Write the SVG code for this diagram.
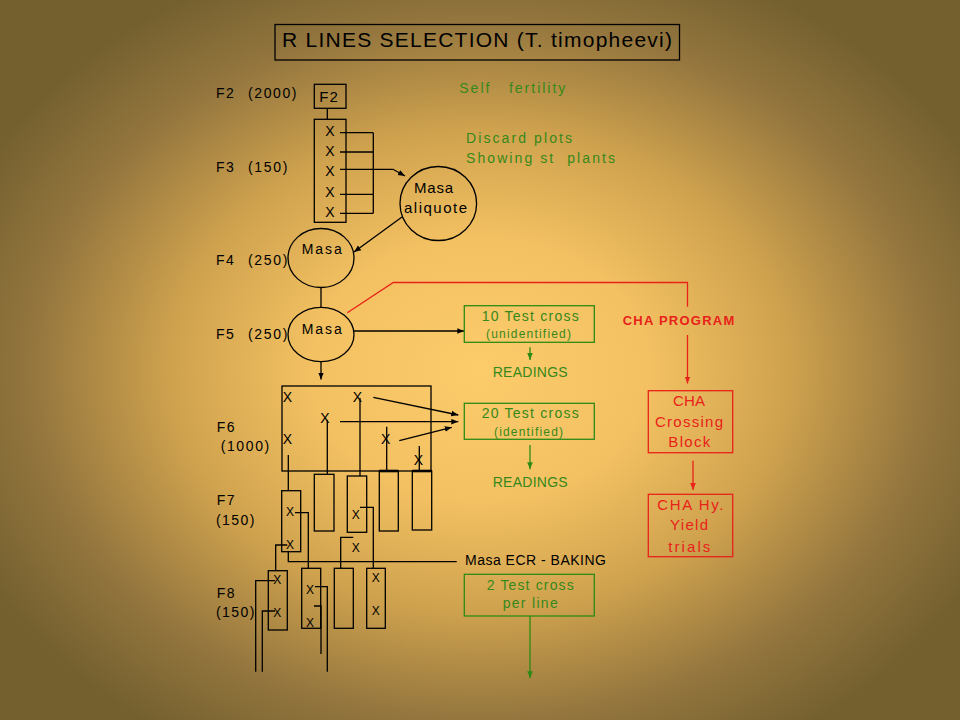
<svg xmlns="http://www.w3.org/2000/svg" width="960" height="720" viewBox="0 0 960 720">
<defs>
<radialGradient id="bg" gradientUnits="userSpaceOnUse" cx="480" cy="370" r="560" gradientTransform="translate(480 370) scale(1 0.78) translate(-480 -370)">
<stop offset="0" stop-color="#fccb6a"/>
<stop offset="0.3" stop-color="#f3c162"/>
<stop offset="0.55" stop-color="#cfa24e"/>
<stop offset="0.8" stop-color="#94763e"/>
<stop offset="1" stop-color="#74602f"/>
</radialGradient>
<marker id="ak" viewBox="0 0 10 10" refX="10" refY="5" markerWidth="7" markerHeight="7" markerUnits="userSpaceOnUse" orient="auto"><path d="M0,1 L10,5 L0,9 z" fill="#000"/></marker>
<marker id="ag" viewBox="0 0 10 10" refX="10" refY="5" markerWidth="7" markerHeight="7" markerUnits="userSpaceOnUse" orient="auto"><path d="M0,1 L10,5 L0,9 z" fill="#2d8a14"/></marker>
<marker id="ar" viewBox="0 0 10 10" refX="10" refY="5" markerWidth="7" markerHeight="7" markerUnits="userSpaceOnUse" orient="auto"><path d="M0,1 L10,5 L0,9 z" fill="#e8221a"/></marker>
</defs>
<style>
text{font-family:"Liberation Sans",Arial,sans-serif}
.k{fill:#000;font-size:14px;letter-spacing:1.5px}
.g{fill:#36881a;font-size:14px}
.r{fill:#e8221a}
.c{text-anchor:middle}
.ln{fill:none;stroke:#000;stroke-width:1.3}
.th{fill:none;stroke:#000;stroke-width:2.6}
.gb{fill:none;stroke:#2d8a14;stroke-width:1.3}
.rb{fill:none;stroke:#e8221a;stroke-width:1.3}
.gl{fill:none;stroke:#2d8a14;stroke-width:1.3}
.rl{fill:none;stroke:#e8221a;stroke-width:1.3}
.x{font-size:14px;text-anchor:middle;fill:#000}
.xs{font-size:12px;text-anchor:middle;fill:#000}
</style>
<rect x="0" y="0" width="960" height="720" fill="url(#bg)"/>

<g id="title">
<rect x="275" y="24.5" width="404.5" height="35.5" fill="none" stroke="#000" stroke-width="1.3"/>
<text x="282" y="46.7" font-size="21" textLength="390" lengthAdjust="spacing">R LINES SELECTION (T. timopheevi)</text>
</g>

<g id="generation-labels">
<text class="k" x="216" y="98">F2</text><text class="k" x="248" y="98" textLength="50" lengthAdjust="spacing">(2000)</text>
<text class="k" x="216" y="171.7">F3</text><text class="k" x="248" y="171.7" textLength="41" lengthAdjust="spacing">(150)</text>
<text class="k" x="216" y="265">F4</text><text class="k" x="248" y="265" textLength="41" lengthAdjust="spacing">(250)</text>
<text class="k" x="216" y="339">F5</text><text class="k" x="248" y="339" textLength="41" lengthAdjust="spacing">(250)</text>
<text class="k" x="216.7" y="431.7">F6</text><text class="k" x="220.7" y="450.7" textLength="50" lengthAdjust="spacing">(1000)</text>
<text class="k" x="216.7" y="505">F7</text><text class="k" x="216" y="525" textLength="40" lengthAdjust="spacing">(150)</text>
<text class="k" x="216.7" y="598.3">F8</text><text class="k" x="216" y="617.3" textLength="40" lengthAdjust="spacing">(150)</text>
</g>

<g id="notes">
<text class="g" x="459.3" y="93.3" xml:space="preserve" textLength="106" lengthAdjust="spacing">Self   fertility</text>
<text class="g" x="466" y="142.7" textLength="106" lengthAdjust="spacing">Discard plots</text>
<text class="g" x="466" y="163.3" xml:space="preserve" textLength="149" lengthAdjust="spacing">Showing st  plants</text>
</g>

<g id="connectors">
<line class="ln" x1="327.3" y1="108.3" x2="327.3" y2="119.3"/>
<polyline class="ln" points="340,132.7 373.3,132.7"/>
<polyline class="ln" points="340,152 373.3,152"/>
<polyline class="ln" points="340,194.3 373.3,194.3"/>
<polyline class="ln" points="340,213.3 373.3,213.3"/>
<line class="ln" x1="373.3" y1="132.7" x2="373.3" y2="213.3"/>
<path class="ln" d="M340,169.3 H393 L405,176" marker-end="url(#ak)"/>
<line class="ln" x1="402" y1="217" x2="354" y2="252" marker-end="url(#ak)"/>
<line class="ln" x1="321" y1="287.5" x2="321" y2="307.3"/>
<line class="ln" x1="354" y1="331" x2="464.3" y2="331" marker-end="url(#ak)"/>
<line class="ln" x1="321" y1="361.7" x2="321" y2="379.5" marker-end="url(#ak)"/>
<path class="rl" d="M347.3,312.7 L393.3,282.5 H687.5 V306.7"/>
<line class="rl" x1="687.5" y1="335" x2="687.5" y2="383.5" marker-end="url(#ar)"/>
<line class="rl" x1="693" y1="460.7" x2="693" y2="490" marker-end="url(#ar)"/>
<line class="gl" x1="530" y1="347.3" x2="530" y2="360" marker-end="url(#ag)"/>
<line class="gl" x1="530" y1="445" x2="530" y2="469.3" marker-end="url(#ag)"/>
<line class="gl" x1="530" y1="616" x2="530" y2="678.3" marker-end="url(#ag)"/>
<!-- F6 internal -->
<line class="ln" x1="373.3" y1="397.3" x2="458.3" y2="415" marker-end="url(#ak)"/>
<line class="ln" x1="340" y1="421.7" x2="458.3" y2="421.7" marker-end="url(#ak)"/>
<line class="ln" x1="399.3" y1="440.7" x2="451.7" y2="427.3" marker-end="url(#ak)"/>
<line class="ln" x1="288.3" y1="455" x2="288.3" y2="490.7"/>
<line class="ln" x1="327.3" y1="420" x2="327.3" y2="474.3"/>
<line class="ln" x1="360" y1="398" x2="360" y2="476"/>
<line class="ln" x1="386.7" y1="426.7" x2="386.7" y2="471"/>
<line class="ln" x1="419.3" y1="446" x2="419.3" y2="471"/>
<line class="th" x1="379.3" y1="471" x2="398.3" y2="471"/>
<line class="th" x1="412.3" y1="471" x2="431.7" y2="471"/>
<!-- F7 to F8 -->
<polyline class="ln" points="295,512.7 308.3,512.7 308.3,568.3"/>
<polyline class="ln" points="287.3,545 275.7,545 275.7,570.7"/>
<polyline class="ln" points="288.3,551.7 288.3,561.7 456.7,561.7"/>
<polyline class="ln" points="360,507.3 373.3,507.3 373.3,568.3"/>
<polyline class="ln" points="353.3,537.3 340.7,537.3 340.7,568.3"/>
<!-- F8 out -->
<polyline class="ln" points="275,580.7 255.7,580.7 255.7,671.7"/>
<polyline class="ln" points="275,611 262.3,611 262.3,671.7"/>
<polyline class="ln" points="315,586.7 327.3,586.7 327.3,671.7"/>
<polyline class="ln" points="314,606 321,606 321,654" stroke-width="1.8"/>
</g>

<g id="f2">
<rect class="ln" x="314.3" y="84.3" width="31.7" height="24"/>
<text x="329" y="101.7" font-size="15" class="c" letter-spacing="1">F2</text>
</g>

<g id="f3">
<rect class="ln" x="314.3" y="119.3" width="31.7" height="103"/>
<text class="x" font-size="15" x="330" y="135.7">X</text>
<text class="x" font-size="15" x="330" y="155.7">X</text>
<text class="x" font-size="15" x="330" y="175.7">X</text>
<text class="x" font-size="15" x="330" y="197.3">X</text>
<text class="x" font-size="15" x="330" y="217.3">X</text>
</g>

<g id="masa-aliquote">
<ellipse class="ln" cx="438.3" cy="203.5" rx="38.3" ry="37"/>
<text x="414" y="193" font-size="15" textLength="39" lengthAdjust="spacing">Masa</text>
<text x="404" y="213" font-size="15" textLength="63" lengthAdjust="spacing">aliquote</text>
</g>

<g id="f4-masa">
<ellipse class="ln" cx="321" cy="258" rx="33" ry="29.5"/>
<text x="301.7" y="254" font-size="14" textLength="40" lengthAdjust="spacing">Masa</text>
</g>

<g id="f5-masa">
<ellipse class="ln" cx="321" cy="334.5" rx="33" ry="27.2"/>
<text x="301.7" y="334" font-size="14" textLength="40" lengthAdjust="spacing">Masa</text>
</g>

<g id="test-cross-10">
<rect class="gb" x="464.3" y="305.7" width="130" height="36.6"/>
<text class="g" x="481.7" y="320.7" textLength="97" lengthAdjust="spacing">10 Test cross</text>
<text class="g" x="486" y="337.7" font-size="12" textLength="85" lengthAdjust="spacing" style="font-size:12px">(unidentified)</text>
</g>
<g id="readings-1"><text class="g" x="492.7" y="376.7" textLength="75" lengthAdjust="spacing">READINGS</text></g>

<g id="f6">
<rect class="ln" x="282" y="386" width="149" height="85"/>
<text class="x" x="287.3" y="401.7">X</text>
<text class="x" x="287.3" y="444.3">X</text>
<text class="x" x="357.3" y="401.7">X</text>
<text class="x" x="325" y="423.3">X</text>
<text class="x" x="385.7" y="444.3">X</text>
<text class="x" x="418.3" y="465">X</text>
</g>

<g id="test-cross-20">
<rect class="gb" x="464.3" y="403.3" width="130" height="36"/>
<text class="g" x="481.7" y="418.3" textLength="97" lengthAdjust="spacing">20 Test cross</text>
<text class="g" x="494" y="436" textLength="69" lengthAdjust="spacing" style="font-size:12px">(identified)</text>
</g>
<g id="readings-2"><text class="g" x="492.7" y="487.3" textLength="75" lengthAdjust="spacing">READINGS</text></g>

<g id="f7">
<rect class="ln" x="281.7" y="490.7" width="19" height="61"/>
<rect class="ln" x="314.3" y="474.3" width="19.7" height="56.7"/>
<rect class="ln" x="347.3" y="476" width="19.4" height="56.3"/>
<rect class="ln" x="379.3" y="471" width="19" height="60"/>
<rect class="ln" x="412.3" y="471" width="19.4" height="59"/>
<text class="xs" x="290" y="516">X</text>
<text class="xs" x="290" y="549.3">X</text>
<text class="xs" x="355.7" y="519.3">X</text>
<text class="xs" x="355.7" y="551.6">X</text>
</g>

<g id="f8">
<rect class="ln" x="268.3" y="570.7" width="19" height="59.3"/>
<rect class="ln" x="301.7" y="568.3" width="19" height="60"/>
<rect class="ln" x="334.3" y="568.3" width="19" height="60"/>
<rect class="ln" x="366.7" y="568.3" width="18.6" height="60"/>
<text class="xs" x="277.3" y="584.3">X</text>
<text class="xs" x="277.3" y="616.6">X</text>
<text class="xs" x="310" y="594.3">X</text>
<text class="xs" x="310" y="627">X</text>
<text class="xs" x="375.7" y="582">X</text>
<text class="xs" x="375.7" y="615">X</text>
</g>

<g id="masa-ecr">
<text x="465" y="565" font-size="14" fill="#000" textLength="141" lengthAdjust="spacing">Masa ECR - BAKING</text>
</g>

<g id="test-cross-2">
<rect class="gb" x="464.3" y="574.3" width="130" height="41.7"/>
<text class="g" x="486.7" y="590" textLength="87" lengthAdjust="spacing">2 Test cross</text>
<text class="g" x="502.7" y="607.7" textLength="55" lengthAdjust="spacing">per line</text>
</g>

<g id="cha-program">
<text class="r" x="622.7" y="325" font-size="13" font-weight="bold" textLength="111.6" lengthAdjust="spacing">CHA PROGRAM</text>
</g>

<g id="cha-crossing-block">
<rect class="rb" x="648.3" y="390.7" width="84.4" height="62"/>
<text class="r" x="673" y="406" font-size="15" textLength="32" lengthAdjust="spacing">CHA</text>
<text class="r" x="655" y="427.3" font-size="15" textLength="68" lengthAdjust="spacing">Crossing</text>
<text class="r" x="668.3" y="447.3" font-size="15" textLength="42" lengthAdjust="spacing">Block</text>
</g>

<g id="cha-yield-trials">
<rect class="rb" x="648.3" y="494.3" width="84.4" height="62.4"/>
<text class="r" x="657.3" y="510" font-size="15" textLength="66" lengthAdjust="spacing">CHA Hy.</text>
<text class="r" x="670" y="530" font-size="15" textLength="38" lengthAdjust="spacing">Yield</text>
<text class="r" x="668.3" y="551.7" font-size="15" textLength="42" lengthAdjust="spacing">trials</text>
</g>
</svg>
